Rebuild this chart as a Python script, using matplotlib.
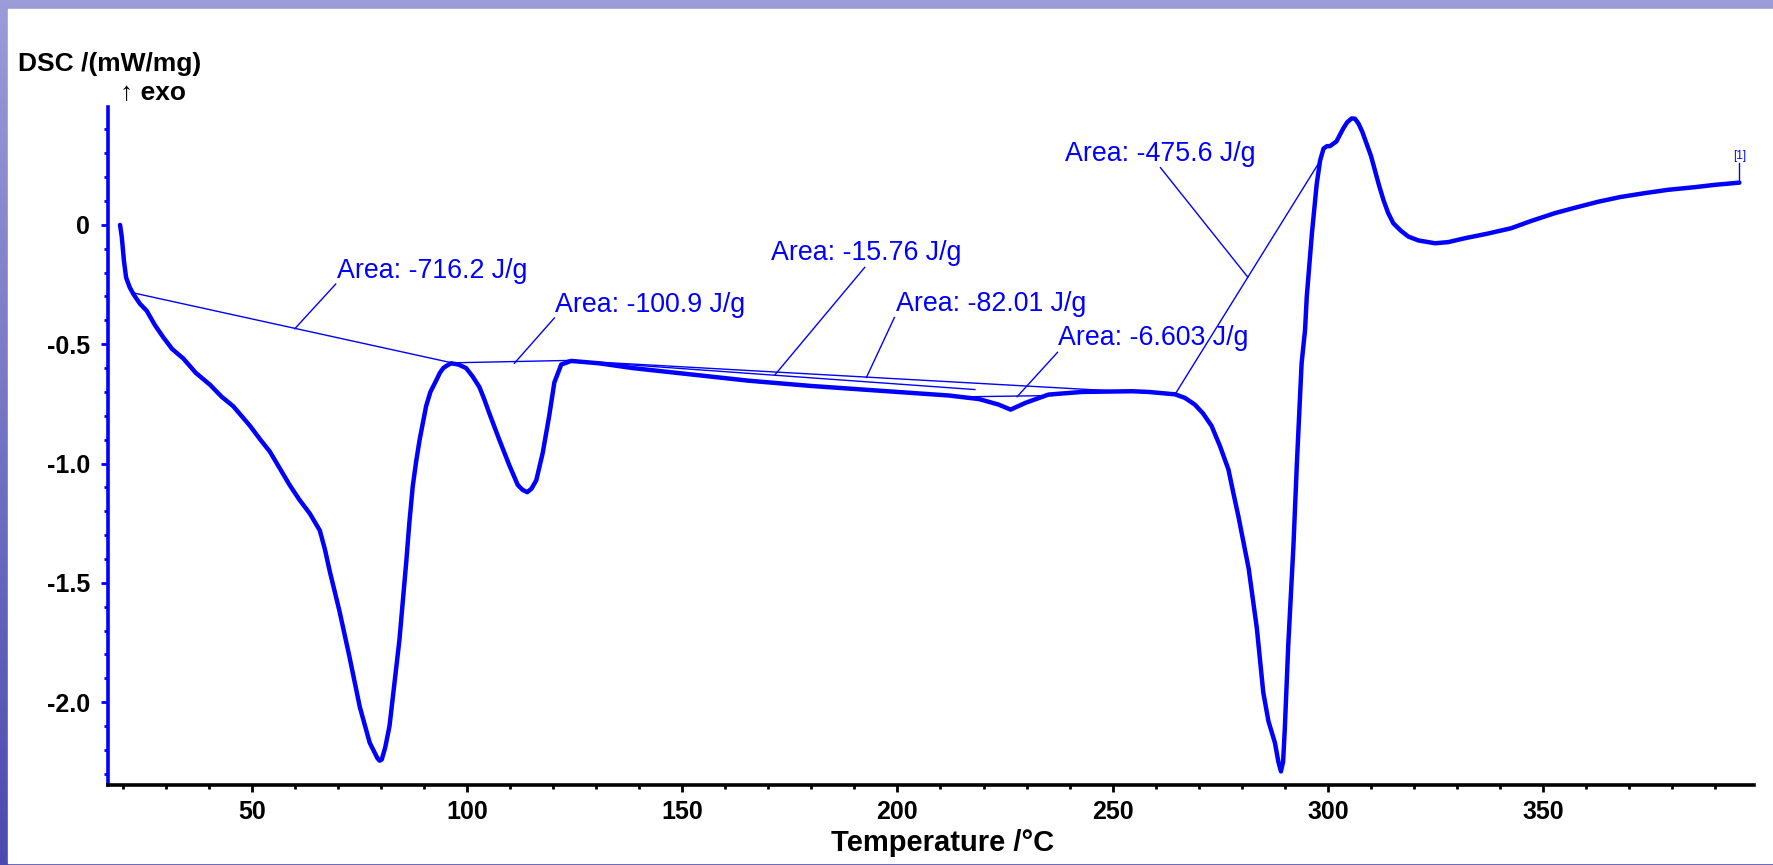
import numpy as np
import matplotlib
matplotlib.use("Agg")
from matplotlib import pyplot as plt
from matplotlib.ticker import MultipleLocator

# 데이터: DSC 곡선 (온도 °C, DSC mW/mg)
temp = [19.4, 19.8, 20.3, 20.8, 21.6, 22.5, 24.0, 25.6, 27.5, 29.4, 31.5, 34.1,
        37.0, 40.3, 43.0, 45.7, 49.5, 52.0, 54.2, 56.5, 58.8, 61.0, 63.5, 65.8,
        67.0, 68.1, 70.4, 72.7, 75.1, 77.4, 78.5, 79.2, 79.7, 80.2, 81.0, 82.0,
        83.6, 84.3, 85.9, 86.6, 87.4, 88.2, 89.0, 90.5, 91.5, 92.9, 93.7, 94.5,
        95.3, 96.3, 98.0, 99.8, 101.3, 102.9, 104.0, 105.2, 107.5, 109.9, 111.8,
        112.9, 114.0, 115.0, 116.1, 117.6, 119.1, 120.3, 121.9, 124.2, 130.7,
        138.5, 153.9, 165.5, 180.0, 200.0, 212.0, 219.0, 223.5, 226.3, 229.7,
        235.1, 242.9, 254.5, 258.3, 264.5, 266.8, 269.1, 271.0, 273.0, 275.0,
        276.9, 278.0, 279.2, 281.6, 283.5, 285.0, 286.2, 287.7, 288.5, 289.1,
        289.6, 290.0, 290.8, 292.0, 292.8, 293.9, 294.7, 295.1, 296.3, 297.4,
        298.2, 299.0, 299.8, 300.5, 302.0, 303.6, 304.5, 305.5, 306.3, 307.1,
        308.0, 309.0, 310.0, 310.9, 311.9, 312.9, 314.0, 315.2, 317.0, 318.7,
        321.0, 324.9, 328.0, 331.8, 337.0, 342.6, 347.0, 352.7, 357.0, 362.8,
        368.0, 373.6, 379.0, 385.2, 390.0, 395.6]
dsc = [0.0, -0.05, -0.15, -0.22, -0.26, -0.29, -0.33, -0.36, -0.42, -0.47, -0.52, -0.56,
       -0.62, -0.67, -0.72, -0.76, -0.84, -0.90, -0.95, -1.02, -1.09, -1.15, -1.21, -1.28,
       -1.36, -1.45, -1.62, -1.81, -2.02, -2.17, -2.21, -2.235, -2.245, -2.24, -2.19, -2.10,
       -1.85, -1.74, -1.41, -1.25, -1.095, -0.99, -0.90, -0.76, -0.70, -0.65, -0.62, -0.60,
       -0.59, -0.58, -0.585, -0.60, -0.635, -0.68, -0.73, -0.79, -0.90, -1.01, -1.09,
       -1.11, -1.12, -1.105, -1.07, -0.955, -0.80, -0.66, -0.585, -0.57, -0.58,
       -0.60, -0.63, -0.653, -0.675, -0.70, -0.715, -0.73, -0.753, -0.774, -0.746,
       -0.711, -0.70, -0.697, -0.70, -0.71, -0.725, -0.753, -0.79, -0.843, -0.93,
       -1.025, -1.12, -1.22, -1.44, -1.69, -1.96, -2.08, -2.17, -2.25, -2.29,
       -2.25, -2.11, -1.76, -1.345, -1.0, -0.58, -0.44, -0.30, -0.035, 0.17,
       0.27, 0.32, 0.33, 0.33, 0.35, 0.405, 0.43, 0.446, 0.445, 0.425,
       0.39, 0.34, 0.29, 0.23, 0.165, 0.105, 0.05, 0.007, -0.025, -0.049,
       -0.065, -0.077, -0.072, -0.056, -0.037, -0.014, 0.015, 0.049, 0.07, 0.097,
       0.117, 0.133, 0.147, 0.158, 0.168, 0.177]

# 피크 면적 라벨
area_labels = ['Area: -716.2 J/g', 'Area: -100.9 J/g', 'Area: -15.76 J/g',
               'Area: -82.01 J/g', 'Area: -6.603 J/g', 'Area: -475.6 J/g']
label_xy = [(69.8, -0.195), (120.5, -0.337), (170.6, -0.119),
            (199.7, -0.33), (237.2, -0.475), (239.0, 0.297)]
# 기준선 (시작 T, 끝 T, 시작 값, 끝 값)
base_t = [(22.5, 96.5), (96.5, 123.5), (123.5, 218.0),
          (123.5, 264.5), (217.0, 236.0), (264.5, 298.6)]
base_y = [(-0.285, -0.578), (-0.578, -0.568), (-0.568, -0.69),
          (-0.568, -0.71), (-0.72, -0.715), (-0.71, 0.28)]
# 지시선
lead_t = [(60.0, 69.5), (111.0, 120.3), (171.6, 192.4),
          (192.8, 199.3), (227.8, 237.2), (281.4, 261.1)]
lead_y = [(-0.435, -0.248), (-0.580, -0.39), (-0.627, -0.178),
          (-0.639, -0.388), (-0.72, -0.534), (-0.219, 0.24)]

xticks = [50, 100, 150, 200, 250, 300, 350]
yticks = [0, -0.5, -1.0, -1.5, -2.0]
ytick_labels = ['0', '-0.5', '-1.0', '-1.5', '-2.0']

# 전역 설정
plt.rcParams['font.family'] = ['Liberation Sans', 'DejaVu Sans']
plt.rcParams['font.size'] = 18

blue = '#0000ff'
fig = plt.figure(figsize=(17.74, 8.65), dpi=100)

# 슬라이드 배경 (그라데이션 + 흰 패널)
bg = fig.add_axes([0, 0, 1, 1], zorder=-10)
grad = np.linspace(0, 1, 256).reshape(-1, 1)
bg.imshow(grad, aspect='auto', extent=[0, 1, 0, 1], origin='upper',
          cmap=matplotlib.colors.LinearSegmentedColormap.from_list(
              'slide', ['#9c9cd8', '#7474c4', '#4a4ab0']))
bg.add_patch(plt.Rectangle((8 / 1774, 2 / 865), 1, 1 - 11 / 865,
                           color='white', transform=bg.transAxes))
bg.set_xlim(0, 1)
bg.set_ylim(0, 1)
bg.axis('off')

ax = fig.add_axes([108 / 1774, 1 - 785 / 865, (1754 - 108) / 1774, (785 - 107) / 865])
ax.set_facecolor('none')

ax.plot(temp, dsc, color=blue, lw=3.2, solid_joinstyle='round', solid_capstyle='round')

for (t0, t1), (y0, y1) in zip(base_t, base_y):
    ax.plot([t0, t1], [y0, y1], color=blue, lw=1)
for (t0, t1), (y0, y1) in zip(lead_t, lead_y):
    ax.plot([t0, t1], [y0, y1], color=blue, lw=1)
for txt, (tx, ty) in zip(area_labels, label_xy):
    ax.text(tx, ty, txt, color=blue, fontsize=19.3, ha='left', va='center')

# 끝점 표시 [1]
ax.plot([temp[-1], temp[-1]], [dsc[-1], 0.26], color=blue, lw=1)
ax.text(temp[-1], 0.265, '[1]', color=blue, fontsize=8.5, ha='center', va='bottom')

ax.set_xlim(16.6, 399)
ax.set_ylim(-2.347, 0.494)

for s in ['top', 'right']:
    ax.spines[s].set_visible(False)
ax.spines['left'].set_color(blue)
ax.spines['left'].set_linewidth(2.6)
ax.spines['bottom'].set_color('black')
ax.spines['bottom'].set_linewidth(2.6)

ax.set_xticks(xticks)
ax.set_xticklabels([str(v) for v in xticks], fontweight='bold')
ax.set_yticks(yticks)
ax.set_yticklabels(ytick_labels, fontweight='bold')
ax.xaxis.set_minor_locator(MultipleLocator(10))
ax.yaxis.set_minor_locator(MultipleLocator(0.1))
ax.tick_params(axis='x', which='major', length=5, width=2, color='black', pad=6)
ax.tick_params(axis='x', which='minor', length=3, width=2, color='black')
ax.tick_params(axis='y', which='major', length=5, width=2, color=blue, pad=8)
ax.tick_params(axis='y', which='minor', length=3, width=2, color=blue)

fig.text(18 / 1774, 1 - 64 / 865, 'DSC /(mW/mg)', fontsize=19, fontweight='bold',
         ha='left', va='center')
fig.text(120 / 1774, 1 - 93 / 865, '\u2191 exo', fontsize=19, fontweight='bold',
         ha='left', va='center')
fig.text(943 / 1774, 1 - 843 / 865, 'Temperature /\u00b0C', fontsize=21, fontweight='bold',
         ha='center', va='center')

fig.savefig('out.png', dpi=100)
plt.close()
